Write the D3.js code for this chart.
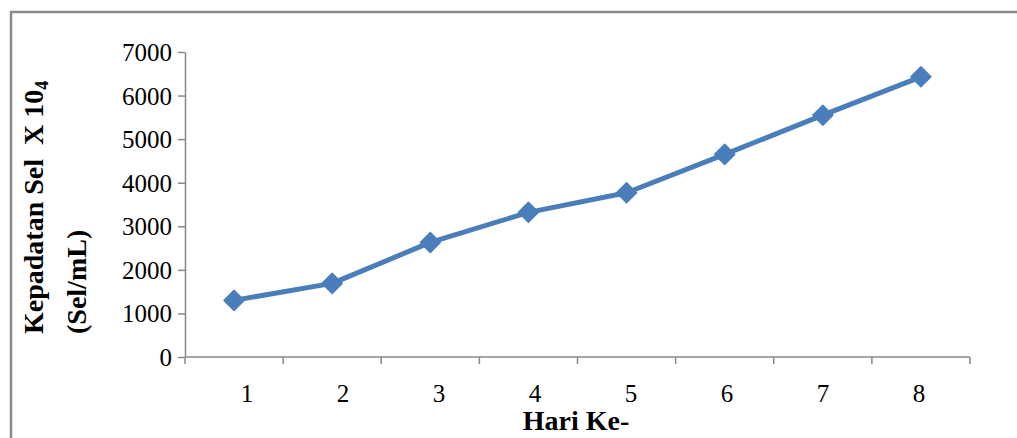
<html>
<head>
<script src="https://d3js.org/d3.v7.min.js"></script>
<style>
    body { margin: 0; background: #fff; }
    svg { display: block; }
    text { font-family: "Liberation Serif", "Times New Roman", serif; fill: #000; }
    .axis path, .axis line { stroke: #898989; stroke-width: 1.5; }
    .title { font-weight: bold; font-size: 28px; }
    .tick-label { font-size: 25px; }
</style>
</head>
<body>

<svg id='chart' width=1017 height=438></svg>

<script>

    let days = ['1', '2', '3', '4', '5', '6', '7', '8'];
    let density = [1300, 1690, 2630, 3320, 3770, 4650, 5550, 6430];
    let yTicks = [0, 1000, 2000, 3000, 4000, 5000, 6000, 7000];

    let svg = d3.select('#chart');
    let margin = {top: 52, right: 47, bottom: 81, left: 185},
        width = +svg.attr('width') - margin.left - margin.right,
        height = +svg.attr('height') - margin.top - margin.bottom;

    // outer frame
    svg.append('rect')
        .attr('x', 11).attr('y', 12)
        .attr('width', 1020).attr('height', 440)
        .attr('fill', 'none')
        .attr('stroke', '#8a8a8a')
        .attr('stroke-width', 2.5);

    let g = svg.append('g')
        .attr('transform', 'translate(' + margin.left + ',' + margin.top + ')');

    let x = d3.scaleBand().domain(days).range([0, width]);
    let y = d3.scaleLinear().domain([0, 7000]).range([height, 0]);
    // tick labels sit a little off the band centres in the original
    let xl = d3.scalePoint().domain(days)
        .range([x('1') + x.bandwidth()/2 + 13, x('8') + x.bandwidth()/2 - 2]);

    // y axis
    let yAxis = g.append('g').attr('class', 'axis')
        .call(d3.axisLeft(y).tickValues(yTicks).tickFormat(d3.format('d'))
            .tickSize(7).tickSizeOuter(0).tickPadding(6));
    yAxis.attr('font-family', null).attr('font-size', null);
    yAxis.selectAll('text')
        .attr('class', 'tick-label')
        .attr('dy', '0.34em');

    // x axis, ticks on band edges
    let xAxis = g.append('g').attr('class', 'axis')
        .attr('transform', 'translate(0,' + height + ')');
    xAxis.append('line').attr('x1', 0).attr('x2', width);
    xAxis.selectAll('.tk')
        .data(days.map(d => x(d)).concat([width]))
      .enter()
        .append('line')
        .attr('x1', d => d).attr('x2', d => d)
        .attr('y1', 0).attr('y2', 7);
    xAxis.selectAll('.lbl')
        .data(days)
      .enter()
        .append('text')
        .attr('class', 'tick-label')
        .attr('x', d => xl(d))
        .attr('y', 45)
        .attr('text-anchor', 'middle')
        .text(d => d);

    // series
    let pts = days.map((d, i) => [x(d) + x.bandwidth()/2, y(density[i])]);

    g.append('path')
        .datum(pts)
        .attr('fill', 'none')
        .attr('stroke', '#4a7ebb')
        .attr('stroke-width', 5)
        .attr('stroke-linejoin', 'round')
        .attr('d', d3.line());

    g.selectAll('.marker')
        .data(pts)
      .enter()
        .append('path')
        .attr('class', 'marker')
        .attr('transform', d => 'translate(' + d[0] + ',' + d[1] + ')')
        .attr('d', 'M0,-10L10,0L0,10L-10,0Z')
        .attr('fill', '#4a7ebb')
        .attr('stroke', '#4a7ebb')
        .attr('stroke-width', 1.5)
        .attr('stroke-linejoin', 'round');

    // axis titles
    svg.append('text')
        .attr('class', 'title')
        .attr('x', 576).attr('y', 430)
        .attr('text-anchor', 'middle')
        .text('Hari Ke-');

    let yt = svg.append('text')
        .attr('class', 'title')
        .attr('transform', 'translate(43,334) rotate(-90)');
    yt.append('tspan').text('Kepadatan Sel  X 10').attr('xml:space', 'preserve');
    yt.append('tspan').text('4').style('font-size', '18px').attr('dy', 5);
    svg.append('text')
        .attr('class', 'title')
        .attr('transform', 'translate(86,334) rotate(-90)')
        .text('(Sel/mL)');

</script>

</body>
</html>
